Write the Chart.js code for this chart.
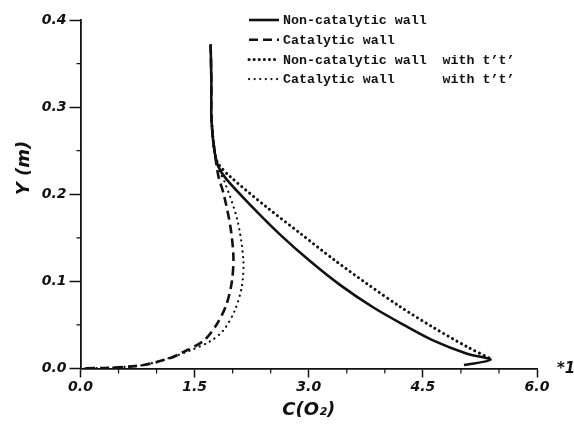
<!DOCTYPE html>
<html>
<head>
<meta charset="utf-8">
<script src="https://cdn.jsdelivr.net/npm/chart.js@4.4.1/dist/chart.umd.min.js"></script>
<style>
    html, body { margin: 0; padding: 0; background: #fff; }
    #wrap { width: 574px; height: 430px; position: relative; }
</style>
</head>
<body>
<div id="wrap"><canvas id="profileChart" width="574" height="430"></canvas></div>
<script>
// Series (C(O2) on x, Y in metres on y)
const nonCatX = [1.71, 1.72, 1.72, 1.74, 1.77, 1.81, 1.92, 2.24, 2.62, 3.02, 3.41, 3.85, 4.25, 4.64, 5.08, 5.39, 5.04]
const nonCatY = [0.372, 0.33, 0.29, 0.265, 0.245, 0.232, 0.217, 0.187, 0.154, 0.123, 0.096, 0.070, 0.050, 0.032, 0.017, 0.010, 0.004]

const catX = [1.71, 1.72, 1.72, 1.74, 1.77, 1.79, 1.82, 1.88, 1.97, 2.01, 1.99, 1.92, 1.80, 1.62, 1.33, 1.18, 0.83, 0.40, 0.0]
const catY = [0.372, 0.33, 0.29, 0.265, 0.245, 0.232, 0.218, 0.201, 0.163, 0.128, 0.100, 0.074, 0.052, 0.032, 0.018, 0.012, 0.004, 0.001, 0.0]

const nonCatTtX = [1.72, 1.74, 1.77, 1.81, 1.97, 2.45, 2.89, 3.33, 3.77, 4.20, 4.64, 5.08, 5.42]
const nonCatTtY = [0.29, 0.265, 0.245, 0.235, 0.220, 0.185, 0.155, 0.125, 0.097, 0.071, 0.047, 0.025, 0.010]

const catTtX = [1.72, 1.74, 1.77, 1.80, 1.84, 1.90, 2.06, 2.14, 2.12, 2.03, 1.88, 1.70, 1.45, 1.20, 0.83, 0.40, 0.0]
const catTtY = [0.29, 0.265, 0.245, 0.235, 0.224, 0.213, 0.171, 0.125, 0.094, 0.067, 0.044, 0.031, 0.021, 0.013, 0.004, 0.001, 0.0]

const seriesLabels = [
    'Non-catalytic wall',
    'Catalytic wall',
    'Non-catalytic wall  with t\u2019t\u2019',
    'Catalytic wall      with t\u2019t\u2019',
]

const xTickLabels = ['0.0', '1.5', '3.0', '4.5', '6.0']
const yTickLabels = ['0.0', '0.1', '0.2', '0.3', '0.4']
const xMinor = [0.5, 1.0, 2.0, 2.5, 3.5, 4.0, 5.0, 5.5]
const yMinor = [0.05, 0.15, 0.25, 0.35]

function toPoints(xs, ys) {
    return xs.map((x, i) => ({ x: x, y: ys[i] }))
}

const tickFont = { family: "'DejaVu Sans', sans-serif", size: 14, weight: 'bold', style: 'italic' }

// Minor ticks, y title, exponent note and legend
const extrasPlugin = {
    id: 'extrasPlugin',
    afterDraw(chart) {
        const ctx = chart.ctx
        const xs = chart.scales.x
        const ys = chart.scales.y
        const area = chart.chartArea
        ctx.save()
        ctx.strokeStyle = '#111'
        ctx.lineWidth = 1.2
        ctx.beginPath()
        xMinor.forEach((v) => {
            const px = xs.getPixelForValue(v)
            ctx.moveTo(px, area.bottom)
            ctx.lineTo(px, area.bottom + 5)
        })
        yMinor.forEach((v) => {
            const py = ys.getPixelForValue(v)
            ctx.moveTo(area.left, py)
            ctx.lineTo(area.left - 4, py)
        })
        ctx.stroke()

        // y axis title
        ctx.fillStyle = '#111'
        ctx.font = "italic bold 18px 'DejaVu Sans', sans-serif"
        ctx.textAlign = 'center'
        ctx.textBaseline = 'middle'
        ctx.translate(24, 168)
        ctx.rotate(-Math.PI / 2)
        ctx.fillText('Y (m)', 0, 0)
        ctx.restore()

        ctx.save()
        ctx.fillStyle = '#111'
        ctx.font = "italic bold 15px 'DejaVu Sans', sans-serif"
        ctx.textBaseline = 'middle'
        ctx.fillText('*10', 557, 369)

        // legend
        ctx.font = "bold 13.3px 'Liberation Mono', monospace"
        chart.data.datasets.forEach((ds, i) => {
            const y = 20 + i * 19.7
            ctx.strokeStyle = ds.borderColor
            ctx.lineWidth = ds.borderWidth
            ctx.lineCap = ds.borderCapStyle || 'butt'
            ctx.setLineDash(ds.borderDash || [])
            ctx.beginPath()
            ctx.moveTo(249, y)
            ctx.lineTo(279, y)
            ctx.stroke()
            ctx.setLineDash([])
            ctx.textAlign = 'left'
            ctx.fillText(ds.label, 283, y + 1)
        })
        ctx.restore()
    },
}

const ctx = document.getElementById('profileChart').getContext('2d')

const profileChart = new Chart(ctx, {
    type: 'scatter',
    data: {
        datasets: [
            {
                label: seriesLabels[0],
                data: toPoints(nonCatX, nonCatY),
                borderColor: '#111',
                borderWidth: 2.6,
            },
            {
                label: seriesLabels[1],
                data: toPoints(catX, catY),
                borderColor: '#111',
                borderWidth: 2.6,
                borderDash: [9, 5],
            },
            {
                label: seriesLabels[2],
                data: toPoints(nonCatTtX, nonCatTtY),
                borderColor: '#111',
                borderWidth: 3,
                borderDash: [0.1, 5],
                borderCapStyle: 'round',
            },
            {
                label: seriesLabels[3],
                data: toPoints(catTtX, catTtY),
                borderColor: '#111',
                borderWidth: 2.2,
                borderDash: [0.1, 5.5],
                borderCapStyle: 'round',
            },
        ],
    },
    options: {
        responsive: false,
        animation: false,
        layout: {
            padding: { top: 20, right: 37, left: 0, bottom: 0 },
        },
        datasets: {
            scatter: {
                showLine: true,
                pointRadius: 0,
                tension: 0.3,
            },
        },
        plugins: {
            legend: { display: false },
            tooltip: { enabled: false },
        },
        scales: {
            x: {
                type: 'linear',
                min: 0,
                max: 6,
                afterFit: (scale) => {
                    scale.height = 61.5
                },
                grid: {
                    drawOnChartArea: false,
                    drawTicks: true,
                    tickLength: 9,
                    tickColor: '#111',
                    tickWidth: 1.5,
                },
                border: { display: true, color: '#111', width: 1.8 },
                ticks: {
                    stepSize: 1.5,
                    color: '#111',
                    font: tickFont,
                    padding: 1,
                    maxRotation: 0,
                    callback: (v) => xTickLabels[Math.round(v / 1.5)],
                },
                title: {
                    display: true,
                    text: 'C(O\u2082)',
                    color: '#111',
                    font: { family: "'DejaVu Sans', sans-serif", size: 18, weight: 'bold', style: 'italic' },
                    padding: { top: 0, bottom: 9 },
                },
            },
            y: {
                type: 'linear',
                min: 0,
                max: 0.4,
                afterFit: (scale) => {
                    scale.width = 80.5
                },
                grid: {
                    drawOnChartArea: false,
                    drawTicks: true,
                    tickLength: 11,
                    tickColor: '#111',
                    tickWidth: 1.5,
                },
                border: { display: true, color: '#111', width: 1.8 },
                ticks: {
                    stepSize: 0.1,
                    color: '#111',
                    font: tickFont,
                    padding: 3,
                    callback: (v) => yTickLabels[Math.round(v * 10)],
                },
            },
        },
    },
    plugins: [extrasPlugin],
})
</script>
</body>
</html>
